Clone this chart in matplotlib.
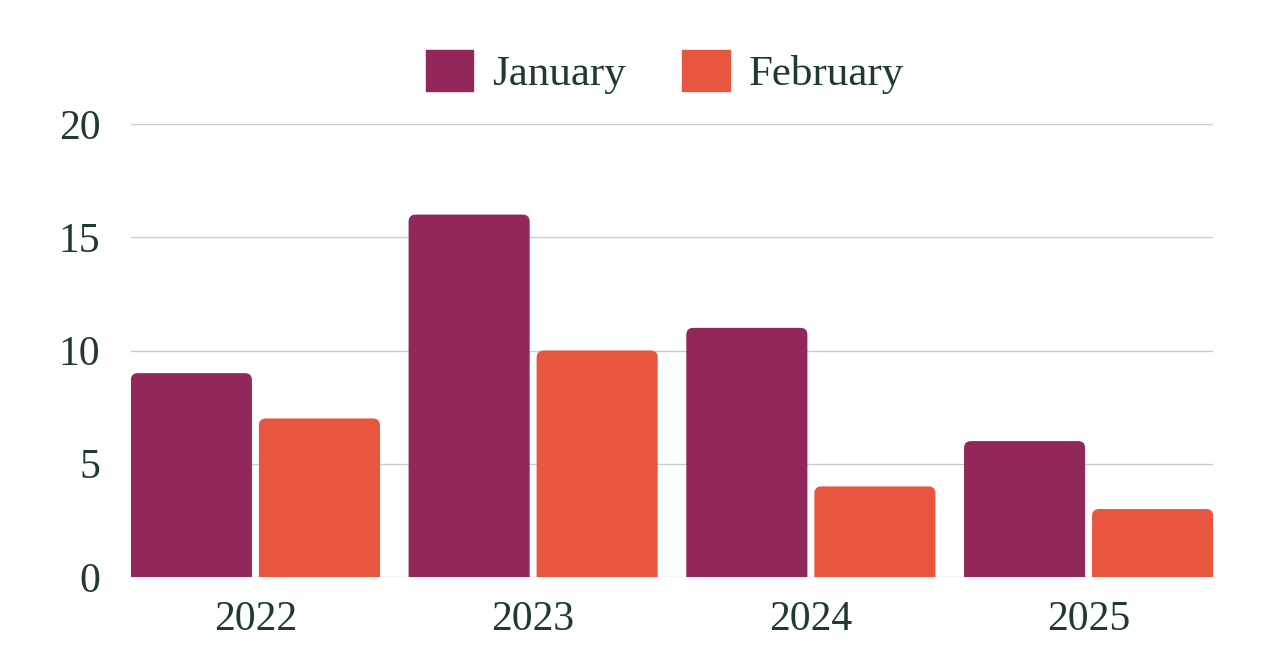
import matplotlib.pyplot as plt
import numpy as np
from matplotlib.patches import FancyBboxPatch, Patch

# data
years = ['2022', '2023', '2024', '2025']
january = [9, 16, 11, 6]
february = [7, 10, 4, 3]

jan_color = '#92275B'
feb_color = '#E85640'
text_color = '#1F3A2E'

plt.rcParams['font.family'] = ['Liberation Serif', 'DejaVu Serif']

fig = plt.figure(figsize=(12.74, 6.52), dpi=100)
ax = fig.add_axes([131 / 1274, 75 / 652, 1082 / 1274, 453 / 652])

x = np.arange(len(years))
w = 0.436
off = 0.2305
bars_j = ax.bar(x - off, january, w, color=jan_color)
bars_f = ax.bar(x + off, february, w, color=feb_color)

ax.set_xlim(-0.448, 3.448)
ax.set_ylim(0, 20)

# swap plain bars for ones with rounded top corners
rx = 7 / 277.7
ry = 7 / 22.65
for bars in (bars_j, bars_f):
    for b in bars:
        bx, by = b.get_x(), b.get_y()
        bw, bh = b.get_width(), b.get_height()
        p = FancyBboxPatch((bx + rx, by - ry * 2), bw - 2 * rx, bh + ry,
                           boxstyle=f'round,pad={rx},rounding_size={rx}',
                           mutation_aspect=ry / rx,
                           facecolor=b.get_facecolor(), edgecolor='none', zorder=3)
        ax.add_patch(p)
        b.remove()

ax.set_yticks([0, 5, 10, 15, 20])
ax.grid(axis='y', color='#cccccc', linewidth=1)
ax.set_axisbelow(True)
for s in ax.spines.values():
    s.set_visible(False)
ax.tick_params(length=0, colors=text_color, labelsize=30)
ax.tick_params(axis='y', pad=22)
ax.tick_params(axis='x', pad=17)
ax.set_xticks(x)
ax.set_xticklabels(years)

handles = [Patch(color=jan_color, label='January'), Patch(color=feb_color, label='February')]
fig.legend(handles=handles, loc='center', bbox_to_anchor=(665 / 1274, 1 - 72 / 652),
           ncol=2, frameon=False, fontsize=31, labelcolor=text_color,
           handlelength=1.1, handleheight=1.1, handletextpad=0.45, columnspacing=1.3)

fig.savefig('out.png', dpi=100)
